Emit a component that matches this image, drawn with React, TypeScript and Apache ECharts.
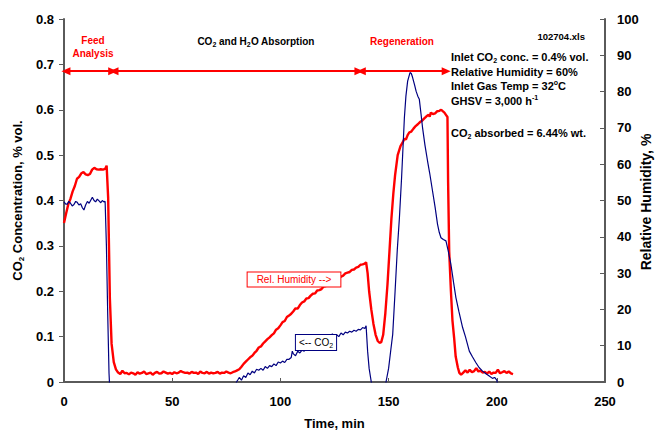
import React, { useEffect, useRef } from "react";
import * as echarts from "echarts";

// Time (min) vs CO2 concentration (% vol.)
const co2Data: [number, number][] = [
  [0, 0.397], [0.8, 0.392], [1.5, 0.392], [2.2, 0.398], [3, 0.394], [3.8, 0.388], [4.6, 0.391],
  [5.4, 0.398], [6.1, 0.396], [6.9, 0.39], [7.7, 0.393], [8.5, 0.384], [9.2, 0.379], [10, 0.39],
  [10.8, 0.398], [11.6, 0.394], [12.3, 0.4], [13.1, 0.407], [13.9, 0.4], [14.6, 0.397], [15.4, 0.403],
  [16.2, 0.399], [17, 0.395], [17.7, 0.4], [18.4, 0.397], [19, 0.398], [19.6, 0.3], [20.2, 0.15],
  [20.8, 0.02], [21.2, -0.02], [79, -0.02], [79.7, 0], [80.5, 0.006], [81, 0.01], [82, 0.004],
  [83, 0.014], [84, 0.01], [85, 0.02], [86, 0.016], [87, 0.024], [88, 0.02], [89, 0.028], [90, 0.026],
  [91, 0.03], [92, 0.026], [93, 0.034], [94, 0.03], [95, 0.036], [96, 0.034], [97, 0.04], [98, 0.036],
  [99, 0.044], [100, 0.042], [101, 0.046], [102, 0.043], [103, 0.05], [104, 0.05], [105, 0.054],
  [105.5, 0.068], [106, 0.062], [107, 0.058], [108, 0.068], [109, 0.064], [110, 0.07], [111, 0.068],
  [112, 0.074], [113, 0.072], [114, 0.078], [115, 0.08], [116, 0.084], [117, 0.086], [118, 0.09],
  [119, 0.088], [120, 0.094], [121, 0.096], [122, 0.1], [123, 0.098], [124, 0.106], [125, 0.102],
  [126, 0.104], [127, 0.1], [128, 0.108], [129, 0.104], [130, 0.11], [131, 0.108], [132, 0.112],
  [133, 0.11], [134, 0.114], [135, 0.112], [136, 0.116], [137, 0.115], [138, 0.12], [139, 0.118],
  [139.6, 0.124], [140.3, 0.068], [141, 0.03], [142, 0], [143, -0.03], [148, -0.03], [148.8, 0],
  [150, 0.03], [151, 0.07], [151.9, 0.105], [153, 0.2], [154, 0.29], [155, 0.362], [156, 0.45],
  [157.3, 0.583], [158, 0.63], [158.8, 0.663], [159.9, 0.682], [160.5, 0.68], [161.1, 0.671],
  [162, 0.655], [162.7, 0.641], [163.5, 0.63], [164.2, 0.623], [165, 0.59], [165.7, 0.56],
  [166.8, 0.522], [168, 0.487], [169, 0.46], [170.3, 0.421], [171.5, 0.385], [172.6, 0.348],
  [173.4, 0.33], [174.2, 0.318], [175.3, 0.314], [176.5, 0.311], [177.5, 0.29], [178.8, 0.259],
  [180, 0.22], [181.1, 0.186], [182.5, 0.155], [184.2, 0.12], [185.5, 0.1], [187.3, 0.068],
  [188.8, 0.055], [190.3, 0.043], [191.8, 0.032], [193.4, 0.024], [195, 0.018], [196.5, 0.013],
  [198, 0.008], [199, 0.01], [200, 0.004], [200.5, -0.01],
];

// Time (min) vs relative humidity (%)
const rhData: [number, number][] = [
  [0, 43.8], [1, 46.5], [2, 49], [3, 50.5], [4, 52.5], [5, 54], [6, 56], [7, 56.5], [8, 57.5],
  [9, 57.8], [10, 57.2], [11, 57], [12, 57.3], [13, 58.5], [14, 59], [15, 58.6], [16, 58.5],
  [17, 58.6], [18, 58.5], [19, 58.7], [19.7, 59.6], [20.4, 50.8], [21.2, 23], [22, 10.5], [23, 5.5],
  [24, 3.5], [25, 2.6], [26, 2.2], [27, 3.1], [28, 2.4], [29, 2.5], [30, 2.1], [31, 2.6], [32, 2.4],
  [33, 2.0], [34, 2.7], [35, 2.3], [36, 2.5], [37, 2.9], [38, 2.2], [39, 2.4], [40, 2.6], [41, 2.0],
  [42, 2.5], [43, 2.8], [44, 2.3], [45, 2.4], [46, 2.9], [47, 2.6], [48, 2.3], [49, 2.5], [50, 2.2],
  [51, 2.7], [52, 2.4], [53, 2.6], [54, 3.0], [55, 2.7], [56, 2.5], [57, 2.6], [58, 2.3], [59, 2.8],
  [60, 2.5], [61, 2.6], [62, 2.2], [63, 2.9], [64, 2.5], [65, 2.4], [66, 2.8], [67, 2.3], [68, 2.6],
  [69, 2.4], [70, 2.5], [71, 2.8], [72, 2.3], [73, 2.6], [74, 2.5], [75, 2.9], [76, 2.6], [77, 2.4],
  [78, 2.7], [79, 2.9], [80, 3.2], [81, 3.5], [82, 4.2], [83, 5], [84, 5.6], [85, 6.2], [86, 6.8],
  [87, 7.2], [88, 8], [89, 8.6], [90, 9.5], [91, 9.8], [92, 10.6], [93, 11.2], [94, 11.8], [95, 12.3],
  [96, 12.9], [97, 13.4], [98, 14.4], [99, 14.8], [100, 15.6], [101, 16.5], [102, 16.8], [103, 17.9],
  [104, 18.3], [105, 18.8], [106, 19.5], [107, 20.3], [108, 20.2], [109, 21.2], [110, 21.9],
  [111, 22.2], [112, 23], [113, 23.1], [114, 23.8], [115, 24.3], [116, 24.4], [117, 25.2], [118, 25.3],
  [119, 25.6], [120, 26.3], [121, 26.4], [122, 26.9], [123, 27.2], [124, 27.8], [125, 27.9],
  [126, 28.4], [127, 28.7], [128, 29], [129, 29.3], [130, 29.9], [131, 30.1], [132, 30.3], [133, 30.9],
  [134, 31], [135, 31.5], [136, 31.7], [137, 32.3], [138, 32.4], [139, 32.6], [139.6, 33],
  [140.3, 30], [141, 25], [142, 20], [143, 16], [144, 13], [145, 11.3], [145.8, 10.8], [146.6, 11],
  [147.5, 13], [148.5, 19], [149.5, 27], [150.4, 36], [151.3, 45], [152.2, 52], [153, 57],
  [154.2, 62.5], [155.5, 65], [156.5, 66], [157.3, 67], [158, 66.8], [158.8, 68], [159.6, 68.8],
  [160.5, 69], [161.5, 69.8], [162.5, 70.5], [163.5, 71], [164.5, 71.6], [165.5, 72], [166.5, 72.6],
  [167.5, 73.2], [168.5, 73.6], [169, 73.1], [169.5, 74.2], [170.5, 73.8], [171.5, 74], [172.5, 74.6],
  [173.5, 74.7], [174.3, 75], [175, 74.6], [175.8, 74.2], [176.5, 73.6], [177.2, 73], [177.5, 55],
  [178, 36], [178.8, 25], [179.5, 17], [180.3, 12], [181, 7], [182, 4], [182.7, 2.5], [183.5, 2.0],
  [184.5, 2.6], [185.5, 3.2], [186.5, 2.6], [187.5, 3.4], [188.5, 2.7], [189.5, 3.0], [190.5, 3.8],
  [191.5, 2.9], [192.5, 3.1], [193.5, 2.6], [194.5, 2.8], [195.5, 2.3], [196.5, 2.9], [197.5, 2.2],
  [198.5, 2.6], [199.5, 2.5], [200.5, 3.4], [201.5, 2.4], [202.5, 2.7], [203.5, 3.0], [204.5, 2.5],
  [205.5, 2.9], [206.5, 2.4], [207.5, 2.2],
];

// Experiment phases (time spans, min) marked by double arrows
const phaseSpans: [number, number][] = [
  [0.9, 22.5],
  [23.1, 136.3],
  [137.4, 176.6],
];
const phaseArrowLevel = 0.685; // on CO2 axis

const xTicks = { min: 0, max: 250, interval: 50 };
const co2Ticks = { min: 0, max: 0.8, interval: 0.1 };
const rhTicks = { min: 0, max: 100, interval: 10 };

const FONT = '"Liberation Sans", Arial, Helvetica, sans-serif';
const RED = "#ff0000";
const NAVY = "#000080";
const AXIS = "#5a5a5a";

export default function App() {
  const ref = useRef<HTMLDivElement>(null);

  useEffect(() => {
    if (!ref.current) return;
    const chart = echarts.init(ref.current, undefined, { renderer: "svg" });

    const subRich = (size: number, color: string, weight: string) => ({
      b: { fontSize: size, fontWeight: weight, color, fontFamily: FONT, lineHeight: size + 3 },
      s: { fontSize: Math.round(size * 0.65), fontWeight: weight, color, fontFamily: FONT, lineHeight: Math.round(size * 0.65), verticalAlign: "bottom" },
      u: { fontSize: Math.round(size * 0.65), fontWeight: weight, color, fontFamily: FONT, lineHeight: Math.round(size * 0.65), verticalAlign: "top" },
    });

    const axisLabel = { color: "#000", fontSize: 13, fontWeight: "bold", fontFamily: FONT };

    const infoLines = [
      { y: 57, text: "{b|Inlet CO}{s|2}{b| conc. = 0.4% vol.}" },
      { y: 72, text: "{b|Relative Humidity = 60%}" },
      { y: 86, text: "{b|Inlet Gas Temp = 32}{u|o}{b|C}" },
      { y: 100.5, text: "{b|GHSV = 3,000 h}{u|-1}" },
      { y: 132.5, text: "{b|CO}{s|2}{b| absorbed = 6.44% wt.}" },
    ];

    const graphics: any[] = [
      {
        type: "text", x: 93, y: 47, z: 100,
        style: { text: "Feed\nAnalysis", fill: RED, font: `bold 10px ${FONT}`, lineHeight: 12.5, textAlign: "center", textVerticalAlign: "middle" },
      },
      {
        type: "text", x: 256, y: 41, z: 100,
        style: { text: "{b|CO}{s|2}{b| and H}{s|2}{b|O Absorption}", rich: subRich(10, RED, "bold"), textAlign: "center", textVerticalAlign: "middle" },
      },
      {
        type: "text", x: 402, y: 41, z: 100,
        style: { text: "Regeneration", fill: RED, font: `bold 10px ${FONT}`, textAlign: "center", textVerticalAlign: "middle" },
      },
      {
        type: "text", x: 585, y: 36, z: 100,
        style: { text: "102704.xls", fill: "#000", font: `bold 9.5px ${FONT}`, textAlign: "right", textVerticalAlign: "middle" },
      },
      ...infoLines.map((l) => ({
        type: "text", x: 451, y: l.y, z: 100,
        style: { text: l.text, rich: subRich(11, "#000", "bold"), textAlign: "left", textVerticalAlign: "middle" },
      })),
      {
        type: "text", x: 294, y: 279.5, z: 100,
        style: {
          text: "Rel. Humidity -->", fill: RED, font: `10px ${FONT}`, textAlign: "center", textVerticalAlign: "middle",
          backgroundColor: "#fff", borderColor: RED, borderWidth: 1, padding: [2, 9, 2, 9],
        },
      },
      {
        type: "text", x: 316, y: 342.5, z: 100,
        style: {
          text: "{b|<-- CO}{s|2}", rich: subRich(10, NAVY, "normal"), textAlign: "center", textVerticalAlign: "middle",
          backgroundColor: "#fff", borderColor: NAVY, borderWidth: 1, padding: [1, 3, 1, 3],
        },
      },
      {
        type: "text", x: 646, y: 202, z: 100, rotation: Math.PI / 2,
        style: { text: "Relative Humidity, %", fill: "#000", font: `bold 14px ${FONT}`, textAlign: "center", textVerticalAlign: "middle" },
      },
    ];

    chart.setOption({
      animation: false,
      backgroundColor: "#fff",
      grid: { left: 64, right: 52, top: 19, bottom: 51, containLabel: false, outerBoundsMode: "none" },
      xAxis: {
        type: "value",
        ...xTicks,
        name: "Time, min",
        nameLocation: "middle",
        nameGap: 35,
        nameTextStyle: { color: "#000", fontSize: 13, fontWeight: "bold", fontFamily: FONT },
        axisLine: { show: true, onZero: false, lineStyle: { color: AXIS, width: 2 } },
        axisTick: { show: true, inside: true, length: 4, lineStyle: { color: AXIS, width: 1 } },
        axisLabel: { ...axisLabel, margin: 13 },
        splitLine: { show: false },
      },
      yAxis: [
        {
          type: "value",
          ...co2Ticks,
          position: "left",
          name: "{b|CO}{s|2}{b| Concentration, % vol.}",
          nameLocation: "middle",
          nameRotate: 90,
          nameGap: 38,
          nameTextStyle: { rich: subRich(13, "#000", "bold") },
          axisLine: { show: true, onZero: false, lineStyle: { color: AXIS, width: 2 } },
          axisTick: { show: true, inside: false, length: 5, lineStyle: { color: AXIS, width: 1 } },
          axisLabel: { ...axisLabel, margin: 10 },
          splitLine: { show: false },
        },
        {
          type: "value",
          ...rhTicks,
          position: "right",
          axisLine: { show: true, onZero: false, lineStyle: { color: AXIS, width: 2 } },
          axisTick: { show: true, inside: true, length: 5, lineStyle: { color: AXIS, width: 1 } },
          axisLabel: { ...axisLabel, margin: 12 },
          splitLine: { show: false },
        },
      ],
      series: [
        {
          name: "CO2",
          type: "line",
          yAxisIndex: 0,
          data: co2Data,
          showSymbol: false,
          clip: true,
          lineStyle: { color: NAVY, width: 1.2 },
          itemStyle: { color: NAVY },
          emphasis: { disabled: true },
          z: 3,
          markLine: {
            silent: true,
            animation: false,
            symbol: ["triangle", "triangle"],
            symbolSize: [8, 9],
            label: { show: false },
            lineStyle: { color: RED, width: 2, type: "solid" },
            emphasis: { disabled: true },
            data: phaseSpans.map(([a, b]) => [
              { coord: [a, phaseArrowLevel] },
              { coord: [b, phaseArrowLevel] },
            ]),
          },
        },
        {
          name: "RH",
          type: "line",
          yAxisIndex: 1,
          data: rhData,
          showSymbol: false,
          clip: true,
          lineStyle: { color: RED, width: 2.4 },
          itemStyle: { color: RED },
          emphasis: { disabled: true },
          z: 2,
        },
      ],
      graphic: graphics,
    });

    return () => chart.dispose();
  }, []);

  return (
    <div
      ref={ref}
      style={{ position: "fixed", left: 0, top: 0, width: 657, height: 433, background: "#fff" }}
    />
  );
}
